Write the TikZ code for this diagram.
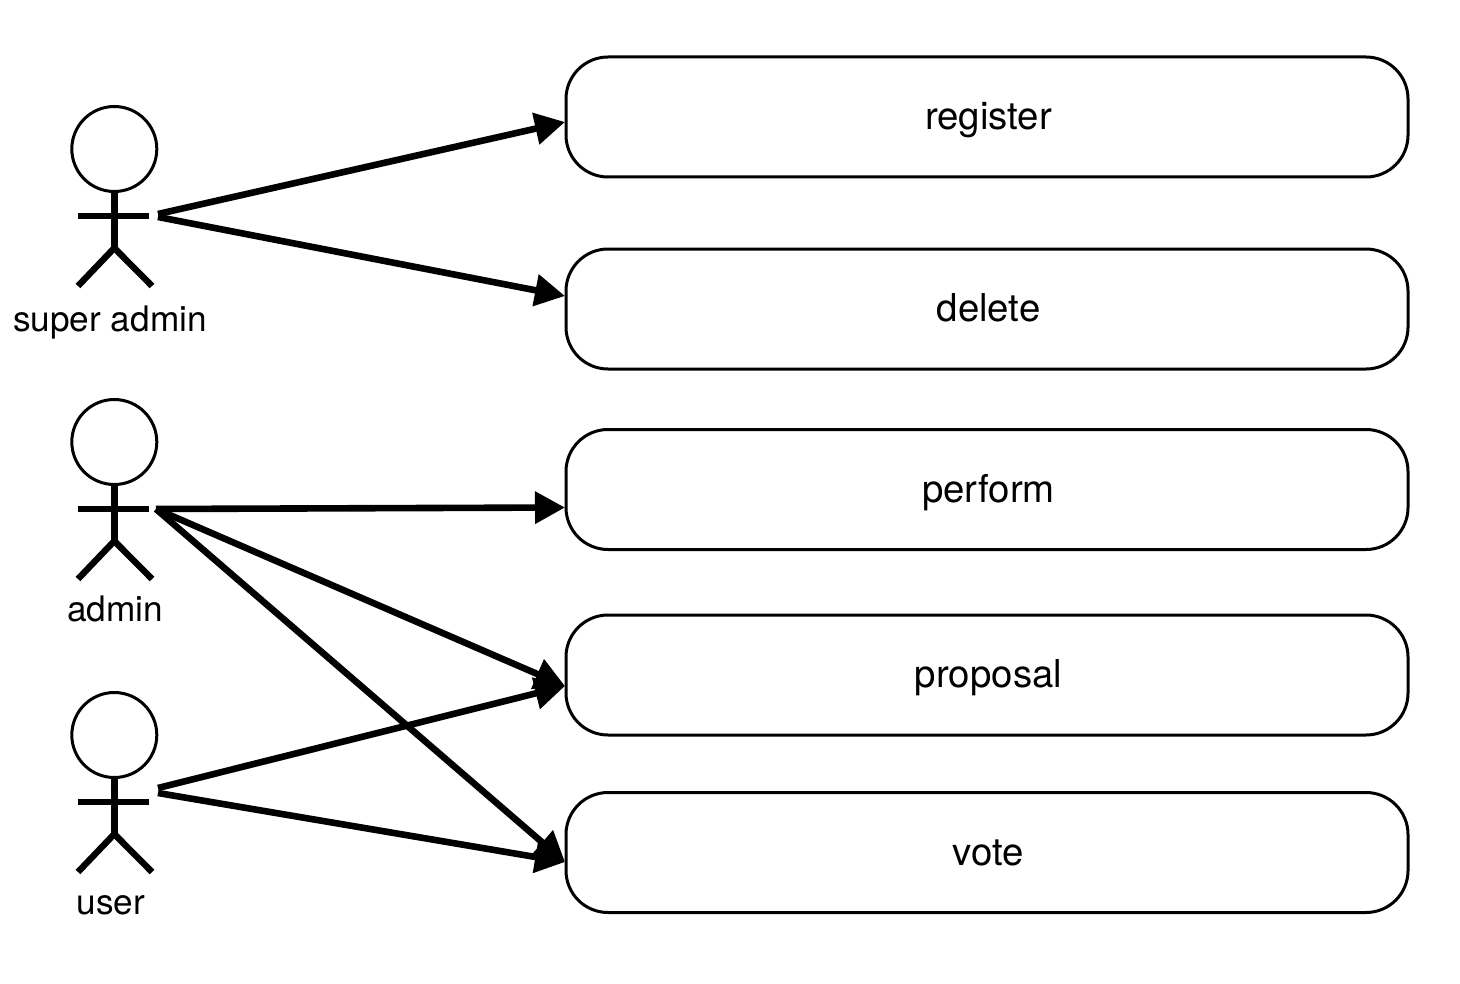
\documentclass[tikz,border=0pt]{standalone}
\usepackage{fontspec}
\setmainfont{TeX Gyre Heros}
\usetikzlibrary{arrows.meta}

\begin{document}
\begin{tikzpicture}[
    x=0.5pt, y=-0.5pt,
    % Define node styles
    usecase/.style={
        rectangle,
        draw,
        rounded corners=21pt,
        line width=1.5pt,
        minimum width=421pt,
        minimum height=60pt,
        text height=12.5pt,
        text depth=0pt,
        execute at begin node=\hspace*{1.5pt},
        font=\fontsize{19.2}{23}\selectfont
    },
    head/.style={
        circle,
        draw,
        line width=1.5pt,
        minimum size=42.5pt,
        inner sep=0pt
    },
    actorname/.style={
        font=\fontsize{17.6}{21}\selectfont,
        inner sep=0pt
    },
    limb/.style={line width=3.2pt},
    link/.style={line width=3.3pt, -{Triangle[length=15pt, width=15.5pt]}}
]
    \useasboundingbox (0,0) rectangle (1460,984);

    % Use cases
    \node[usecase] (register) at (987,117) {register};
    \node[usecase] (delete) at (987,309) {delete};
    \node[usecase] (perform) at (987,489.5) {perform};
    \node[usecase] (proposal) at (987,675) {proposal};
    \node[usecase] (vote) at (987,852.5) {vote};

    % Actors
    \foreach \who/\y in {sadmin/149, admin/442, user/735} {
        \node[head] (\who head) at (114.3,\y) {};
        \coordinate (\who hip) at (114.3,\y+99);
        \draw[limb] (\who head.south) -- (\who hip);
        \draw[limb] (78,\y+67) -- (149,\y+67);
        \draw[limb] (78,\y+137) -- (\who hip) -- (152,\y+137);
    }
    \node[actorname] (sadminname) at (110,323) {super admin};
    \node[actorname] (adminname) at (115,609) {admin};
    \node[actorname] (username) at (111,905) {user};

    % Arrow ends
    \coordinate (sadminup) at (158,214);
    \coordinate (sadmindown) at (158,217);
    \coordinate (adminout) at (156,509);
    \coordinate (userup) at (158,788);
    \coordinate (userdown) at (158,793);
    \coordinate (toregister) at (565,122);
    \coordinate (todelete) at (565,296);
    \coordinate (toperform) at (565,507.5);
    \coordinate (toproposal) at (565,686);
    \coordinate (tovote) at (565,862);

    % Links
    \draw[link] (sadminup) -- (toregister);
    \draw[link] (sadmindown) -- (todelete);
    \draw[link] (adminout) -- (toperform);
    \draw[link] (adminout) -- (toproposal);
    \draw[link] (adminout) -- (tovote);
    \draw[link] (userup) -- (toproposal);
    \draw[link] (userdown) -- (tovote);
\end{tikzpicture}
\end{document}
